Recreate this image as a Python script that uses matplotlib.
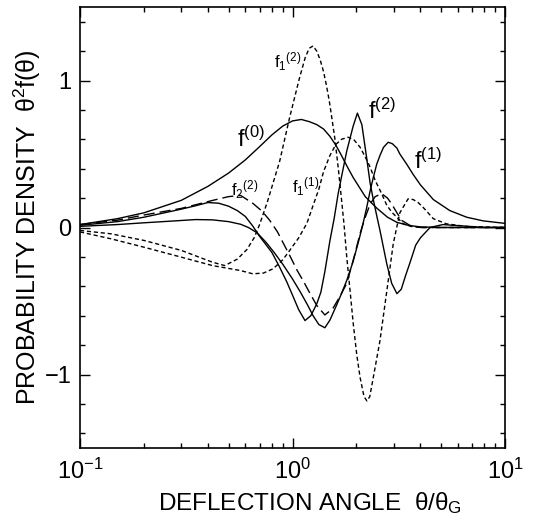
import matplotlib
matplotlib.use("Agg")
import matplotlib.pyplot as plt
from matplotlib.ticker import LogLocator, MultipleLocator, FixedLocator, NullFormatter

# Curves (x = theta/theta_G, y = theta^2 f(theta))
f0_x = [0.1, 0.15, 0.2, 0.3, 0.4, 0.5, 0.6, 0.7, 0.8, 0.9,
        1.0, 1.1, 1.2, 1.3, 1.4, 1.5, 1.6, 1.7, 1.8, 1.93,
        2.05, 2.2, 2.4, 2.5, 2.8, 3.1, 3.5, 4.0, 5.0, 10.0]
f0_y = [0.02, 0.06, 0.10, 0.185, 0.28, 0.37, 0.46, 0.55, 0.63, 0.69,
        0.725, 0.735, 0.72, 0.70, 0.67, 0.62, 0.56, 0.49, 0.42, 0.34,
        0.28, 0.21, 0.155, 0.13, 0.07, 0.035, 0.015, 0.004, 0.0, 0.0]

f1_x = [0.1, 0.15, 0.2, 0.28, 0.35, 0.42, 0.5, 0.57, 0.62, 0.68,
        0.75, 0.82, 0.9, 1.0, 1.09, 1.18, 1.25, 1.33, 1.42, 1.5,
        1.61, 1.7, 1.8, 1.92, 2.05, 2.15, 2.23, 2.32, 2.4, 2.49,
        2.58, 2.68, 2.82, 2.95, 3.1, 3.2, 3.45, 3.7, 4.0, 4.6,
        5.5, 6.6, 7.9, 10.0]
f1_y = [0.008, 0.02, 0.032, 0.045, 0.054, 0.052, 0.04, 0.022, 0.0, -0.035,
        -0.1, -0.17, -0.25, -0.35, -0.44, -0.53, -0.60, -0.66, -0.682, -0.63,
        -0.53, -0.45, -0.36, -0.24, -0.09, 0.03, 0.13, 0.25, 0.34, 0.43,
        0.49, 0.545, 0.58, 0.57, 0.54, 0.50, 0.43, 0.36, 0.29, 0.19,
        0.115, 0.07, 0.045, 0.028]

f2_x = [0.1, 0.15, 0.2, 0.3, 0.35, 0.4, 0.45, 0.5, 0.55, 0.6,
        0.65, 0.7, 0.8, 0.87, 0.94, 1.0, 1.07, 1.145, 1.22, 1.3,
        1.36, 1.42, 1.5, 1.57, 1.64, 1.72, 1.8, 1.93, 2.02, 2.12,
        2.23, 2.32, 2.4, 2.5, 2.58, 2.78, 2.93, 3.1, 3.25, 3.4,
        3.57, 3.8, 4.0, 4.44, 5.1, 6.1, 8.0, 10.0]
f2_y = [0.015, 0.04, 0.07, 0.125, 0.148, 0.17, 0.165, 0.145, 0.115, 0.075,
        0.01, -0.06, -0.17, -0.27, -0.37, -0.46, -0.56, -0.633, -0.60, -0.52,
        -0.44, -0.30, -0.09, 0.06, 0.23, 0.38, 0.52, 0.69, 0.778, 0.70,
        0.48, 0.30, 0.19, 0.07, -0.02, -0.25, -0.38, -0.45, -0.42, -0.33,
        -0.24, -0.12, -0.07, 0.0, 0.02, 0.012, 0.0, 0.0]

f11_x = [0.1, 0.14, 0.2, 0.3, 0.42, 0.57, 0.65, 0.73, 0.81, 0.9,
         0.97, 1.07, 1.17, 1.25, 1.33, 1.4, 1.5, 1.6, 1.7, 1.83,
         1.95, 2.08, 2.2, 2.32, 2.45, 2.63, 2.78, 2.95, 3.1, 3.32,
         3.6, 4.0, 10.0]
f11_y = [-0.03, -0.077, -0.134, -0.202, -0.259, -0.293, -0.315, -0.31, -0.281, -0.22,
         -0.156, -0.07, 0.03, 0.15, 0.26, 0.38, 0.49, 0.565, 0.6, 0.614,
         0.595, 0.546, 0.48, 0.41, 0.32, 0.229, 0.15, 0.1, 0.07, 0.025,
         0.008, 0.0, 0.0]

f12_x = [0.1, 0.14, 0.2, 0.3, 0.42, 0.48, 0.55, 0.61, 0.66, 0.7,
         0.76, 0.87, 0.97, 1.08, 1.15, 1.2, 1.25, 1.3, 1.35, 1.4,
         1.443, 1.49, 1.537, 1.584, 1.643, 1.701, 1.748, 1.8, 1.866, 1.93,
         2.008, 2.08, 2.17, 2.24, 2.31, 2.4, 2.58, 2.78, 2.98, 3.2,
         3.5, 3.7, 3.9, 4.13, 4.6, 5.3, 6.6, 10.0]
f12_y = [-0.02, -0.043, -0.088, -0.156, -0.236, -0.259, -0.215, -0.15, -0.07, 0.02,
         0.17, 0.45, 0.75, 1.02, 1.16, 1.22, 1.235, 1.2, 1.14, 1.06,
         0.97, 0.86, 0.73, 0.6, 0.4, 0.19, 0.02, -0.2, -0.43, -0.65,
         -0.87, -1.02, -1.15, -1.18, -1.15, -1.02, -0.77, -0.43, -0.11, 0.1,
         0.195, 0.19, 0.17, 0.135, 0.06, 0.025, 0.007, 0.0]

f22_x = [0.1, 0.15, 0.2, 0.3, 0.42, 0.5, 0.57, 0.65, 0.72, 0.78,
         0.85, 0.9, 0.97, 1.05, 1.13, 1.2, 1.3, 1.42, 1.55, 1.67,
         1.8, 1.95, 2.08, 2.2, 2.32, 2.45, 2.63, 2.8, 2.93, 3.1,
         3.27, 3.57, 4.0, 5.0, 10.0]
f22_y = [0.02, 0.05, 0.085, 0.13, 0.184, 0.21, 0.218, 0.165, 0.11, 0.05,
         -0.03, -0.1, -0.19, -0.29, -0.37, -0.44, -0.53, -0.595, -0.55, -0.47,
         -0.38, -0.2, -0.04, 0.07, 0.16, 0.21, 0.23, 0.2, 0.16, 0.1,
         0.048, 0.014, 0.0, 0.0, 0.0]

# Curve labels: (text, x, y, size)
labels = [
    (r"f$_1{}^{(2)}$", 0.82, 1.088, 12),
    (r"f$^{(0)}$", 0.548, 0.546, 17),
    (r"f$^{(2)}$", 2.27, 0.741, 17),
    (r"f$^{(1)}$", 3.72, 0.401, 17),
    (r"f$_1{}^{(1)}$", 0.99, 0.238, 12),
    (r"f$_2{}^{(2)}$", 0.515, 0.218, 12),
]

plt.rcParams["font.family"] = ["Liberation Sans", "DejaVu Sans"]
plt.rcParams["mathtext.fontset"] = "custom"
plt.rcParams["mathtext.rm"] = "Liberation Sans"
plt.rcParams["mathtext.it"] = "Liberation Sans"
plt.rcParams["mathtext.bf"] = "Liberation Sans:bold"


def plot_densities():
    fig = plt.figure(figsize=(5.42, 5.21), dpi=100)
    ax = fig.add_axes([80 / 542, 1 - 448 / 521, 425 / 542, 441 / 521])

    lw = 1.0
    ax.plot(f0_x, f0_y, color="black", lw=lw)
    ax.plot(f1_x, f1_y, color="black", lw=lw)
    ax.plot(f2_x, f2_y, color="black", lw=lw)
    ax.plot(f11_x, f11_y, color="black", lw=lw, dashes=(3, 2))
    ax.plot(f12_x, f12_y, color="black", lw=lw, dashes=(3, 2))
    ax.plot(f22_x, f22_y, color="black", lw=lw, dashes=(8, 3.6))

    for txt, x, y, size in labels:
        ax.text(x, y, txt, fontsize=size, ha="left", va="baseline")

    ax.set_xscale("log")
    ax.set_xlim(0.1, 10)
    ax.set_ylim(-1.5, 1.5)

    ax.xaxis.set_major_locator(LogLocator(base=10, numticks=5))
    ax.xaxis.set_minor_locator(LogLocator(base=10, subs=range(2, 10), numticks=20))
    ax.xaxis.set_minor_formatter(NullFormatter())
    ax.yaxis.set_major_locator(FixedLocator([-1, 0, 1]))
    ax.yaxis.set_minor_locator(MultipleLocator(0.2))

    ax.tick_params(which="both", direction="in", top=True, right=True,
                   width=1.0, labelsize=17)
    ax.tick_params(which="major", length=7)
    ax.tick_params(which="minor", length=3.5)
    ax.tick_params(axis="x", which="major", pad=8)
    ax.tick_params(axis="y", which="major", pad=6)
    for sp in ax.spines.values():
        sp.set_linewidth(1.2)

    ax.set_xlabel("DEFLECTION ANGLE  θ/θ$_{G}$", fontsize=17.5, labelpad=4, x=0.54)
    ax.set_ylabel("PROBABILITY DENSITY  θ$^{2}$f(θ)", fontsize=18, labelpad=1)

    fig.savefig("out.png", dpi=100)
    plt.close(fig)


if __name__ == "__main__":
    plot_densities()
